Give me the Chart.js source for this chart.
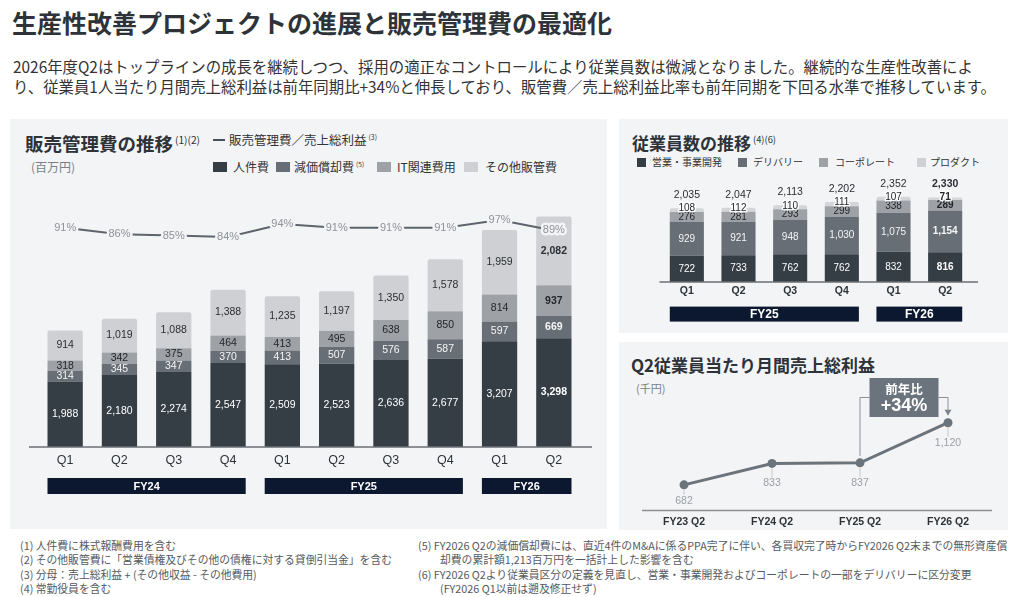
<!DOCTYPE html>
<html lang="ja">
<head>
<meta charset="utf-8">
<script src="https://cdn.jsdelivr.net/npm/chart.js@4.4.0/dist/chart.umd.min.js"></script>
<style>
  body { margin:0; width:1024px; height:597px; background:#fff; position:relative; overflow:hidden;
         font-family:"Noto Sans CJK JP","Noto Sans",sans-serif; color:#2b3036; }
  .t { position:absolute; white-space:nowrap; line-height:1; }
  .panel { position:absolute; background:#f3f4f6; }
  .sw { position:absolute; }
  canvas { position:absolute; }
  sup { font-size:0.55em; vertical-align:0.7em; font-weight:normal; margin-left:2px; }
  .note { position:absolute; white-space:nowrap; line-height:1; font-size:10.8px; color:#555a60; }
</style>
</head>
<body>

<div class="t" style="left:12px;top:10px;font-size:25px;font-weight:bold;color:#2d3339;">生産性改善プロジェクトの進展と販売管理費の最適化</div>
<div class="t" style="left:13px;top:59px;font-size:15.4px;color:#333;">2026年度Q2はトップラインの成長を継続しつつ、採用の適正なコントロールにより従業員数は微減となりました。継続的な生産性改善によ</div>
<div class="t" style="left:13px;top:79px;font-size:15.4px;color:#333;">り、従業員1人当たり月間売上総利益は前年同期比+34%と伸長しており、販管費／売上総利益比率も前年同期を下回る水準で推移しています。</div>

<div class="panel" style="left:10px;top:119px;width:597px;height:410px;"></div>
<div class="panel" style="left:619px;top:119px;width:389px;height:214px;"></div>
<div class="panel" style="left:619px;top:342px;width:389px;height:188px;"></div>

<!-- left panel header -->
<div class="t" style="left:25px;top:134px;font-size:18.5px;font-weight:bold;color:#2d3339;">販売管理費の推移<sup>(1)(2)</sup></div>
<div class="sw" style="left:213px;top:139px;width:12px;height:1.5px;background:#4a5057;"></div>
<div class="t" style="left:229px;top:134px;font-size:12.5px;color:#333;">販売管理費／売上総利益<sup>(3)</sup></div>
<div class="t" style="left:31px;top:161px;font-size:12px;color:#7a7f85;">(百万円)</div>
<div class="sw" style="left:213px;top:162px;width:14px;height:10px;background:#353d45;"></div>
<div class="t" style="left:233px;top:161px;font-size:12px;color:#333;">人件費</div>
<div class="sw" style="left:276px;top:162px;width:14px;height:10px;background:#676e75;"></div>
<div class="t" style="left:294px;top:161px;font-size:12px;color:#333;">減価償却費<sup>(5)</sup></div>
<div class="sw" style="left:377px;top:162px;width:14px;height:10px;background:#9ea2a7;"></div>
<div class="t" style="left:397px;top:161px;font-size:12px;color:#333;">IT関連費用</div>
<div class="sw" style="left:464px;top:162px;width:14px;height:10px;background:#ced0d4;"></div>
<div class="t" style="left:485px;top:161px;font-size:12px;color:#333;">その他販管費</div>

<!-- right top header -->
<div class="t" style="left:632px;top:133.5px;font-size:17px;font-weight:bold;color:#2d3339;">従業員数の推移<sup>(4)(6)</sup></div>
<div class="sw" style="left:637px;top:158px;width:9px;height:9px;background:#353d45;"></div>
<div class="t" style="left:652px;top:157px;font-size:10px;color:#333;">営業・事業開発</div>
<div class="sw" style="left:738px;top:158px;width:9px;height:9px;background:#676e75;"></div>
<div class="t" style="left:753px;top:157px;font-size:10px;color:#333;">デリバリー</div>
<div class="sw" style="left:819px;top:158px;width:9px;height:9px;background:#9ea2a7;"></div>
<div class="t" style="left:835px;top:157px;font-size:10px;color:#333;">コーポレート</div>
<div class="sw" style="left:917px;top:158px;width:9px;height:9px;background:#ced0d4;"></div>
<div class="t" style="left:930px;top:157px;font-size:10px;color:#333;">プロダクト</div>

<!-- right bottom header -->
<div class="t" style="left:631px;top:355.5px;font-size:17px;font-weight:bold;color:#2d3339;">Q2従業員当たり月間売上総利益</div>
<div class="t" style="left:636px;top:382.5px;font-size:11px;color:#7a7f85;">(千円)</div>

<canvas id="sgaChart" width="597" height="340" style="left:10px;top:190px;"></canvas>
<canvas id="empChart" width="388" height="162" style="left:620px;top:170px;"></canvas>
<canvas id="gpChart" width="388" height="167" style="left:620px;top:370px;"></canvas>

<!-- footnotes -->
<div class="note" style="left:20px;top:539.5px;">(1) 人件費に株式報酬費用を含む</div>
<div class="note" style="left:20px;top:554px;">(2) その他販管費に「営業債権及びその他の債権に対する貸倒引当金」を含む</div>
<div class="note" style="left:20px;top:568.5px;">(3) 分母：売上総利益 + (その他収益 - その他費用)</div>
<div class="note" style="left:20px;top:583px;">(4) 常勤役員を含む</div>
<div class="note" style="left:418px;top:539.5px;">(5) FY2026 Q2の減価償却費には、直近4件のM&amp;Aに係るPPA完了に伴い、各買収完了時からFY2026 Q2末までの無形資産償</div>
<div class="note" style="left:440px;top:554px;">却費の累計額1,213百万円を一括計上した影響を含む</div>
<div class="note" style="left:418px;top:568.5px;">(6) FY2026 Q2より従業員区分の定義を見直し、営業・事業開発およびコーポレートの一部をデリバリーに区分変更</div>
<div class="note" style="left:440px;top:583px;">(FY2026 Q1以前は遡及修正せず)</div>

<script>
// 販売管理費 (百万円)
const quarters = ['Q1', 'Q2', 'Q3', 'Q4', 'Q1', 'Q2', 'Q3', 'Q4', 'Q1', 'Q2'];
const personnel = [1988, 2180, 2274, 2547, 2509, 2523, 2636, 2677, 3207, 3298];
const depreciation = [314, 345, 347, 370, 413, 507, 576, 587, 597, 669];
const itCost = [318, 342, 375, 464, 413, 495, 638, 850, 814, 937];
const otherSga = [914, 1019, 1088, 1388, 1235, 1197, 1350, 1578, 1959, 2082];
const sgaRatio = [91, 86, 85, 84, 94, 91, 91, 91, 97, 89];
const sgaYears = [['FY24', 0, 3], ['FY25', 4, 7], ['FY26', 8, 9]];

// 従業員数
const empQuarters = ['Q1', 'Q2', 'Q3', 'Q4', 'Q1', 'Q2'];
const empSales = [722, 733, 762, 762, 832, 816];
const empDelivery = [929, 921, 948, 1030, 1075, 1154];
const empCorporate = [276, 281, 293, 299, 338, 289];
const empProduct = [108, 112, 110, 111, 107, 71];
const empYears = [['FY25', 0, 3], ['FY26', 4, 5]];

// 従業員当たり月間売上総利益 (千円)
const gpLabels = ['FY23 Q2', 'FY24 Q2', 'FY25 Q2', 'FY26 Q2'];
const gpPerHead = [682, 833, 837, 1120];

const NUM_FONT = '"Liberation Sans", Arial, sans-serif';
const fmt = v => v.toLocaleString('en-US');

// value labels in the middle of each bar segment
const barLabels = {
  id: 'barLabels',
  afterDatasetsDraw(chart, args, opts) {
    const ctx = chart.ctx;
    ctx.save();
    ctx.textAlign = 'center';
    ctx.textBaseline = 'middle';
    chart.data.datasets.forEach((ds, di) => {
      if (ds.type === 'line') return;
      const meta = chart.getDatasetMeta(di);
      meta.data.forEach((el, i) => {
        const bold = i === ds.data.length - 1;
        ctx.font = (bold ? 'bold ' : '') + opts.size + 'px ' + NUM_FONT;
        const y = (el.y + el.base) / 2 + (opts.shift[di] || 0);
        const txt = fmt(ds.data[i]);
        if (opts.halo[di]) {
          ctx.lineWidth = 3;
          ctx.lineJoin = 'round';
          ctx.strokeStyle = 'rgba(255,255,255,0.9)';
          ctx.strokeText(txt, el.x, y);
        }
        ctx.fillStyle = opts.colors[di];
        ctx.fillText(txt, el.x, y);
      });
    });
    if (opts.totals) {
      const top = chart.getDatasetMeta(chart.data.datasets.length - 1);
      top.data.forEach((el, i) => {
        const total = chart.data.datasets.reduce((s, ds) => s + ds.data[i], 0);
        const bold = i === top.data.length - 1;
        ctx.font = (bold ? 'bold ' : '') + (opts.size + 0.5) + 'px ' + NUM_FONT;
        ctx.fillStyle = '#2b2f33';
        ctx.fillText(fmt(total), el.x, el.y - 13);
      });
    }
    ctx.restore();
  }
};

// fiscal year bands and the base line under the bars
const yearBands = {
  id: 'yearBands',
  afterDraw(chart, args, opts) {
    const ctx = chart.ctx;
    const area = chart.chartArea;
    const meta = chart.getDatasetMeta(opts.dataset);
    ctx.save();
    ctx.strokeStyle = '#6b7075';
    ctx.lineWidth = 1.5;
    ctx.beginPath();
    ctx.moveTo(area.left - opts.extL, area.bottom);
    ctx.lineTo(area.right + opts.extR, area.bottom);
    ctx.stroke();
    opts.groups.forEach(([label, a, b]) => {
      const ea = meta.data[a], eb = meta.data[b];
      const x1 = ea.x - ea.width / 2, x2 = eb.x + eb.width / 2;
      const y = area.bottom + opts.top;
      ctx.fillStyle = '#0c1830';
      ctx.fillRect(x1, y, x2 - x1, opts.height);
      ctx.fillStyle = '#fff';
      ctx.font = 'bold ' + opts.size + 'px ' + NUM_FONT;
      ctx.textAlign = 'center';
      ctx.textBaseline = 'middle';
      ctx.fillText(label, (x1 + x2) / 2, y + opts.height / 2 + 0.5);
    });
    ctx.restore();
  }
};

// percentage labels on the ratio line
const ratioLabels = {
  id: 'ratioLabels',
  afterDatasetsDraw(chart) {
    const ctx = chart.ctx;
    const di = chart.data.datasets.findIndex(d => d.type === 'line');
    const meta = chart.getDatasetMeta(di);
    ctx.save();
    ctx.font = '11px ' + NUM_FONT;
    ctx.textAlign = 'center';
    ctx.textBaseline = 'middle';
    meta.data.forEach((el, i) => {
      const txt = chart.data.datasets[di].data[i] + '%';
      ctx.lineWidth = 5;
      ctx.lineJoin = 'round';
      ctx.strokeStyle = '#f3f4f6';
      ctx.strokeText(txt, el.x, el.y);
      ctx.fillStyle = '#8e9399';
      ctx.fillText(txt, el.x, el.y);
    });
    ctx.restore();
  }
};

const commonOpts = {
  responsive: false,
  animation: false,
  events: [],
};

new Chart(document.getElementById('sgaChart'), {
  type: 'bar',
  data: {
    labels: quarters,
    datasets: [
      { label: '人件費', data: personnel, backgroundColor: '#353d45', order: 1 },
      { label: '減価償却費', data: depreciation, backgroundColor: '#676e75', order: 1 },
      { label: 'IT関連費用', data: itCost, backgroundColor: '#9ea2a7', order: 1 },
      { label: 'その他販管費', data: otherSga, backgroundColor: '#ced0d4', order: 1,
        borderRadius: { topLeft: 2, topRight: 2, bottomLeft: 0, bottomRight: 0 } },
      { type: 'line', label: '販売管理費／売上総利益', data: sgaRatio, yAxisID: 'y1', order: 0,
        borderColor: '#5d646b', borderWidth: 2, pointRadius: 0, tension: 0 }
    ]
  },
  options: {
    ...commonOpts,
    layout: { padding: { left: 28, right: 26, top: 10, bottom: 56 } },
    datasets: { bar: { categoryPercentage: 1, barPercentage: 0.65 } },
    plugins: {
      legend: { display: false },
      tooltip: { enabled: false },
      barLabels: {
        size: 10.5,
        colors: ['#ffffff', '#f4f5f6', '#23272b', '#2b2f33'],
        halo: [false, false, false, false],
        shift: []
      },
      yearBands: { dataset: 0, groups: sgaYears, top: 31, height: 16, size: 11, extL: 9, extR: 11 }
    },
    scales: {
      x: {
        stacked: true,
        grid: { display: false, drawTicks: false },
        border: { display: false },
        ticks: { color: '#2e3338', padding: 6, font: { size: 12.5, family: NUM_FONT } }
      },
      y: { stacked: true, display: false, min: 0, max: 7485 },
      y1: { display: false, min: -77.6, max: 112.4 }
    }
  },
  plugins: [barLabels, yearBands, ratioLabels]
});

new Chart(document.getElementById('empChart'), {
  type: 'bar',
  data: {
    labels: empQuarters,
    datasets: [
      { label: '営業・事業開発', data: empSales, backgroundColor: '#353d45' },
      { label: 'デリバリー', data: empDelivery, backgroundColor: '#676e75' },
      { label: 'コーポレート', data: empCorporate, backgroundColor: '#9ea2a7' },
      { label: 'プロダクト', data: empProduct, backgroundColor: '#d3d5d8',
        borderRadius: { topLeft: 2, topRight: 2, bottomLeft: 0, bottomRight: 0 } }
    ]
  },
  options: {
    ...commonOpts,
    layout: { padding: { left: 41, right: 37, top: 20, bottom: 31.5 } },
    datasets: { bar: { categoryPercentage: 1, barPercentage: 0.66 } },
    plugins: {
      legend: { display: false },
      tooltip: { enabled: false },
      barLabels: {
        size: 10,
        colors: ['#ffffff', '#f4f5f6', '#23272b', '#23272b'],
        halo: [false, false, false, true],
        shift: [0, 0, 0, -1.5],
        totals: true
      },
      yearBands: { dataset: 0, groups: empYears, top: 24.7, height: 15, size: 12, extL: 1.5, extR: 7 }
    },
    scales: {
      x: {
        stacked: true,
        grid: { display: false, drawTicks: false },
        border: { display: false },
        ticks: { color: '#2e3338', padding: 3, font: { size: 10.5, weight: 'bold', family: NUM_FONT } }
      },
      y: { stacked: true, display: false, min: 0, max: 2536 }
    }
  },
  plugins: [barLabels, yearBands]
});

// point labels and the year-over-year callout
const gpDecor = {
  id: 'gpDecor',
  afterDatasetsDraw(chart) {
    const ctx = chart.ctx;
    const area = chart.chartArea;
    const meta = chart.getDatasetMeta(0);
    const data = chart.data.datasets[0].data;
    ctx.save();
    // base line
    ctx.strokeStyle = '#8a8f95';
    ctx.lineWidth = 1.5;
    ctx.beginPath();
    ctx.moveTo(area.left + 2, area.bottom);
    ctx.lineTo(area.right, area.bottom);
    ctx.stroke();
    // value labels
    ctx.font = '10.5px ' + NUM_FONT;
    ctx.textAlign = 'center';
    ctx.textBaseline = 'middle';
    meta.data.forEach((el, i) => {
      const off = i === 0 ? 16 : 20;
      ctx.strokeStyle = '#c3c6ca';
      ctx.lineWidth = 1;
      ctx.beginPath();
      ctx.moveTo(el.x, el.y + 5);
      ctx.lineTo(el.x, el.y + off - 6);
      ctx.stroke();
      ctx.fillStyle = '#9a9fa5';
      ctx.fillText(fmt(data[i]), el.x, el.y + off);
    });
    // callout
    const p2 = meta.data[data.length - 2], p3 = meta.data[data.length - 1];
    const growth = Math.round((data[data.length - 1] / data[data.length - 2] - 1) * 100);
    const boxW = 69, boxH = 39;
    const cx = (p2.x + p3.x) / 2;
    const top = area.top - 22;
    const midY = top + boxH / 2;
    ctx.strokeStyle = '#8a9096';
    ctx.lineWidth = 1;
    ctx.beginPath();
    ctx.moveTo(p2.x, p2.y - 7);
    ctx.lineTo(p2.x, midY);
    ctx.lineTo(cx - boxW / 2, midY);
    ctx.moveTo(cx + boxW / 2, midY);
    ctx.lineTo(p3.x, midY);
    ctx.lineTo(p3.x, p3.y - 11);
    ctx.stroke();
    ctx.fillStyle = '#7d848b';
    ctx.beginPath();
    ctx.moveTo(p3.x - 3.5, p3.y - 13);
    ctx.lineTo(p3.x + 3.5, p3.y - 13);
    ctx.lineTo(p3.x, p3.y - 7);
    ctx.closePath();
    ctx.fill();
    ctx.fillStyle = '#6b737c';
    ctx.fillRect(cx - boxW / 2, top, boxW, boxH);
    ctx.fillStyle = '#ffffff';
    ctx.font = 'bold 12.5px "Noto Sans CJK JP", sans-serif';
    ctx.fillText('前年比', cx, top + 11);
    ctx.font = 'bold 18px ' + NUM_FONT;
    ctx.fillText('+' + growth + '%', cx, top + 28);
    ctx.restore();
  }
};

new Chart(document.getElementById('gpChart'), {
  type: 'line',
  data: {
    labels: gpLabels,
    datasets: [{
      label: 'Q2従業員当たり月間売上総利益',
      data: gpPerHead,
      borderColor: '#6b737b',
      borderWidth: 3,
      pointRadius: 4.5,
      pointBackgroundColor: '#6b737b',
      pointBorderWidth: 0,
      tension: 0
    }]
  },
  options: {
    ...commonOpts,
    layout: { padding: { left: 20, right: 16, top: 30, bottom: 4 } },
    plugins: { legend: { display: false }, tooltip: { enabled: false } },
    scales: {
      x: {
        offset: true,
        grid: { display: false, drawTicks: false },
        border: { display: false },
        ticks: { color: '#2e3338', padding: 5, font: { size: 10.5, weight: 'bold', family: NUM_FONT } }
      },
      y: { display: false, min: 502, max: 1280 }
    }
  },
  plugins: [gpDecor]
});
</script>
</body>
</html>
